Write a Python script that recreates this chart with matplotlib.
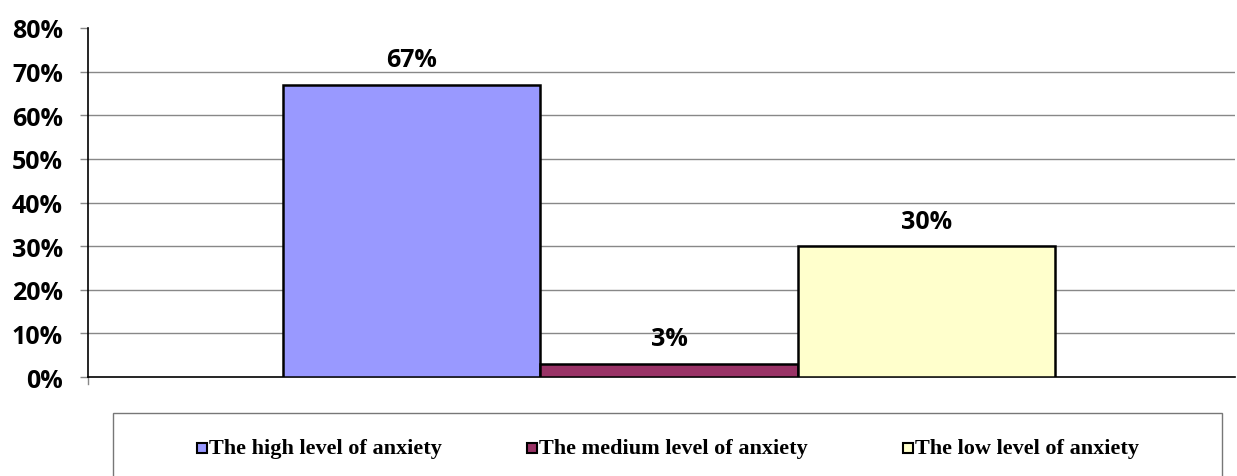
import matplotlib
matplotlib.use("Agg")
import matplotlib.pyplot as plt
from matplotlib.patches import Rectangle
from matplotlib.ticker import FuncFormatter

levels = ["The high level of anxiety", "The medium level of anxiety", "The low level of anxiety"]
percent = [67, 3, 30]
colors = ["#9999FF", "#993366", "#FFFFCC"]
y_ticks = [0, 10, 20, 30, 40, 50, 60, 70, 80]

W, H = 1237, 477
fig = plt.figure(figsize=(W / 100, H / 100), dpi=100)

# axes box in pixel coordinates
left_px, right_px, top_px, bottom_px = 88, 1235, 29, 378
ax = fig.add_axes([left_px / W, 1 - bottom_px / H,
                   (right_px - left_px) / W, (bottom_px - top_px) / H])

x = list(range(len(levels)))
ax.bar(x, percent, width=1.0, color=colors, edgecolor="black",
       linewidth=1.8, zorder=3)

unit = 257.0
ax.set_xlim(-0.5 - (283 - left_px) / unit, 2.5 + (right_px - 1055) / unit)
ax.set_ylim(0, 80)

label_font = "Open Sans"
for xi, v in zip(x, percent):
    ax.annotate(f"{v}%", (xi, v), xytext=(0, 9), textcoords="offset points",
                ha="center", va="bottom", fontsize=18, fontweight="bold",
                family=label_font, zorder=4)

ax.set_yticks(y_ticks)
ax.yaxis.set_major_formatter(FuncFormatter(lambda v, p: f"{v:.0f}%"))
ax.tick_params(axis="y", direction="out", length=6, width=1, color="#888888",
               labelsize=18, pad=12)
for lbl in ax.get_yticklabels():
    lbl.set_fontweight("bold")
    lbl.set_family(label_font)
ax.set_xticks([])

for y in y_ticks[1:-1]:
    ax.axhline(y, color="#888888", linewidth=1.0, zorder=1)

for side in ("top", "right"):
    ax.spines[side].set_visible(False)
ax.spines["left"].set_linewidth(1.2)
ax.spines["bottom"].set_linewidth(1.2)

# small tick below the axis at the left edge
ax.plot([ax.get_xlim()[0]] * 2, [0, -1.6], color="#888888", linewidth=1,
        clip_on=False)

# legend frame and entries
fig.patches.append(Rectangle((113 / W, -0.1), (1222 - 113) / W, 0.1 + (1 - 414 / H),
                             transform=fig.transFigure, facecolor="none",
                             edgecolor="#777777", linewidth=1.0))
legend_x = [197, 527, 903]
legend_y = 1 - 449 / H
for lx, lab, c in zip(legend_x, levels, colors):
    fig.patches.append(Rectangle((lx / W, legend_y - 5 / H), 10 / W, 10 / H,
                                 transform=fig.transFigure, facecolor=c,
                                 edgecolor="black", linewidth=1.5))
    fig.text((lx + 12) / W, legend_y, lab, ha="left", va="center",
             fontsize=16, fontweight="bold", family="Liberation Serif")

fig.savefig("out.png", dpi=100)
